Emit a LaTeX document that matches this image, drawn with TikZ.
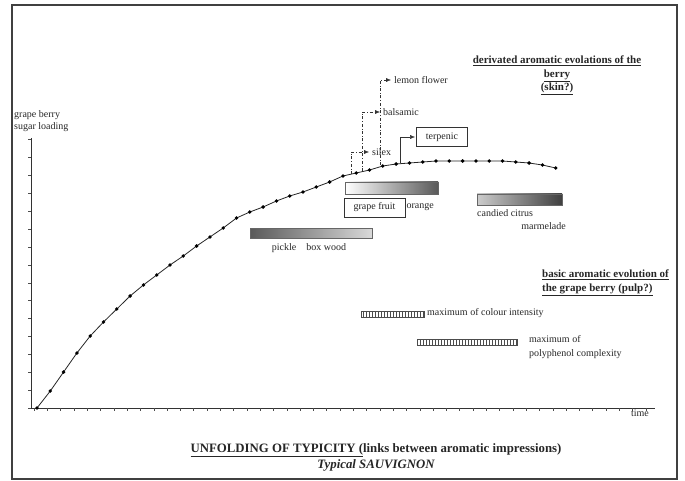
\documentclass[tikz,border=0pt]{standalone}
\usepackage{fontspec}
\setmainfont{Liberation Serif}
\usetikzlibrary{arrows.meta,patterns}

\begin{document}
\begin{tikzpicture}[x=1pt,y=-1pt,
    lbl/.style={inner sep=1pt,text=black!85,font=\fontsize{10}{14}\selectfont},
    head/.style={inner sep=0pt,text=black!85,font=\fontsize{11}{13.5}\selectfont\bfseries},
    textbox/.style={lbl,draw=black!80,thick,minimum height=19pt},
    bar/.style={draw=black!60,thick,inner sep=0pt,minimum height=12pt},
    hatchbar/.style={draw=black!70,inner sep=0pt,minimum height=6pt,
      pattern=vertical lines,pattern color=black!70},
    aroma/.style={dash dot,black!80,-{Latex[length=5pt,width=4pt]},shorten >=2pt}]
  \useasboundingbox (0,0) rectangle (685,481);
  \draw[line width=1.6pt,black!75] (12,5) rectangle (677,479);

  % axes
  \draw[black!80] (31,138) -- (31,408) -- (655,408);
  \foreach \k in {0,...,46}
    \draw[black!70] ({34+13.3*\k},408) -- ++(0,3);
  \foreach \k in {0,...,15}
    \draw[black!70] (31,{408-17.9*\k}) -- ++(-3,0);
  \node[lbl,anchor=west,align=left,font=\fontsize{10}{11.5}\selectfont] (ylabel) at (13,121) {grape berry\\sugar loading};
  \node[lbl] (time) at (640,413) {time};

  % sugar loading curve
  \def\curvey{408,391,372,353,336,322,309,296,285,275,265,256,246,237,228,218,212,207,201,196,192,187,182,176,173,170,166,164,163,162,161,161,161,161,161,161,162,163,165,168}
  \draw[thick,black!85] (37,408) \foreach \y [count=\k from 0] in \curvey { -- ({37+13.3*\k},\y) };
  \foreach \y [count=\k from 0] in \curvey
    \fill ({37+13.3*\k},\y) circle (1.9pt);

  % derivated aromas (skin)
  \node[head,align=center] (skin) at (557,75.5) {\underline{derivated aromatic evolations of the}\\\underline{berry}\\\underline{(skin?)}};
  \node[lbl,anchor=west] (silex) at (371,152) {silex};
  \node[lbl,anchor=west] (balsam) at (382,112) {balsamic};
  \node[lbl,anchor=west] (lemon) at (393,80) {lemon flower};
  \node[textbox,minimum width=51pt] (terp) at (442,137) {terpenic};

  \coordinate (sx) at (351,174);
  \coordinate (bs) at (362,171);
  \coordinate (lf) at (380,165);
  \coordinate (tp) at (400,163);
  \draw[aroma] (sx) |- (silex);
  \draw[aroma] (bs) |- (balsam);
  \draw[aroma] (lf) |- (lemon);
  \draw[black!80,-{Latex[length=5pt,width=4pt]},shorten >=1pt] (tp) |- (terp);

  \node[bar,minimum width=93pt,left color=white,right color=black!65] (fruitbar) at (391.5,188) {};
  \node[textbox,minimum width=61pt] (fruit) at (374.5,207.5) {grape fruit};
  \node[lbl,anchor=west] (orange) at (fruit.east) {orange};

  \node[bar,minimum width=122pt,minimum height=10pt,left color=black!65,right color=black!15] (woodbar) at (311,233) {};
  \node[lbl] (wood) at (309,248) {pickle\hspace{1em}box wood};

  \node[bar,minimum width=85pt,minimum height=11pt,left color=black!20,right color=black!75] (citrusbar) at (519.5,199.5) {};
  \node[lbl,anchor=west] (citrus) at (476,213) {candied citrus};
  \node[lbl,anchor=east] (marm) at (567,226) {marmelade};

  % basic aromas (pulp)
  \node[head,anchor=west,align=left] (pulp) at (542,283) {\underline{basic aromatic evolution of}\\\underline{the grape berry (pulp?)}};
  \node[hatchbar,minimum width=63pt] (colourbar) at (392.5,314) {};
  \node[lbl,anchor=west] (colour) at (426,313) {maximum of colour intensity};
  \node[hatchbar,minimum width=100pt] (polybar) at (467,342) {};
  \node[lbl,anchor=west,align=left] (poly) at (528,347) {maximum of\\polyphenol complexity};

  % title
  \node[inner sep=0pt,text=black!85,font=\fontsize{12.8}{15}\selectfont\bfseries] (title) at (376,450) {\underline{UNFOLDING OF TYPICITY (}links between aromatic impressions)};
  \node[inner sep=0pt,text=black!85,font=\fontsize{12.8}{15}\selectfont\bfseries\itshape] (subtitle) at (376,465) {Typical SAUVIGNON};
\end{tikzpicture}
\end{document}
